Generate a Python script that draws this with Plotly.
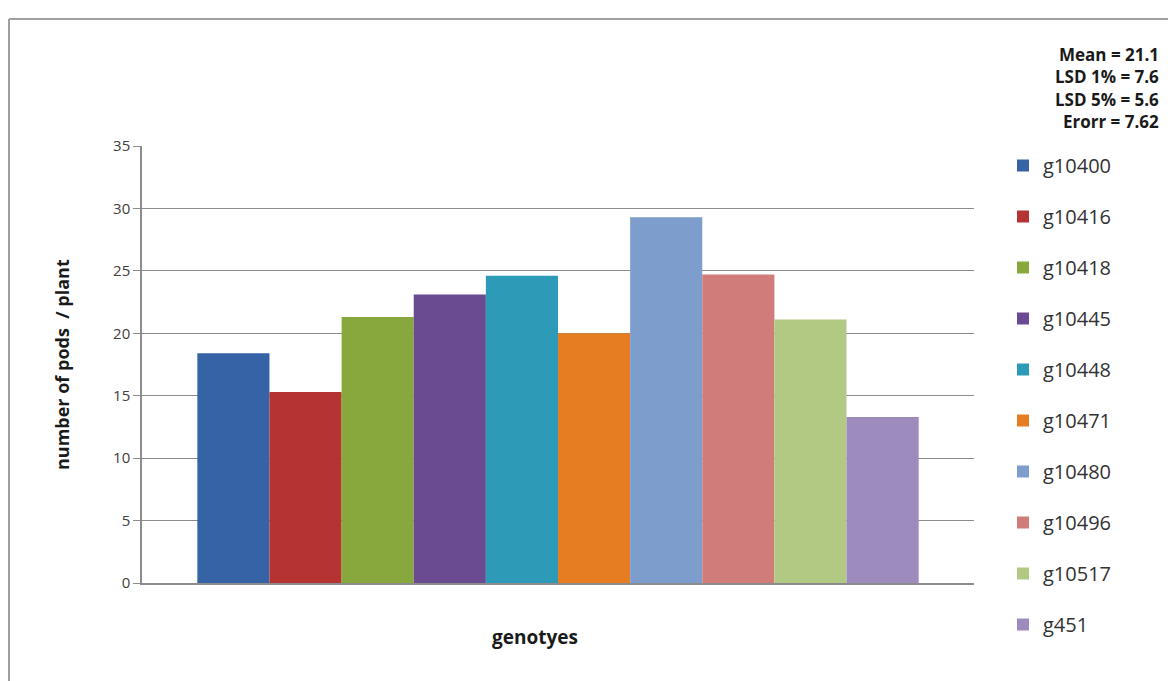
import plotly.graph_objects as go

genotypes = ["g10400", "g10416", "g10418", "g10445", "g10448",
             "g10471", "g10480", "g10496", "g10517", "g451"]
pods_per_plant = [18.4, 15.3, 21.3, 23.1, 24.6, 20.0, 29.3, 24.7, 21.1, 13.3]
bar_colors = ["#3563a6", "#b53331", "#88a83e", "#6a4b91", "#2d9bb8",
              "#e77d22", "#7d9dcc", "#d07c7a", "#b2c983", "#9d8bbd"]
stats_lines = ["Mean = 21.1", "LSD 1% = 7.6", "LSD 5% = 5.6", "Erorr = 7.62"]
y_ticks = [0, 5, 10, 15, 20, 25, 30, 35]

W, H = 1168, 681
PLOT_L, PLOT_R, PLOT_T, PLOT_B = 142, 974, 146, 583
L, R, T, B = PLOT_L, W - PLOT_R, PLOT_T, H - PLOT_B
pw, ph = W - L - R, H - T - B


def px(x):
    return (x - L) / pw


def py(y):
    return (PLOT_B - y) / ph


FONT = "Open Sans"

fig = go.Figure()
for g, v, c in zip(genotypes, pods_per_plant, bar_colors):
    fig.add_trace(go.Bar(
        x=["genotypes"], y=[v], name=g,
        marker=dict(color=c, line=dict(width=0)),
        legendgroup=g,
    ))

fig.update_layout(
    width=W, height=H,
    margin=dict(l=L, r=R, t=T, b=B, pad=0, autoexpand=False),
    paper_bgcolor="white", plot_bgcolor="white",
    barmode="group", bargap=0.133, bargroupgap=0,
    font=dict(family=FONT, color="#333333"),
    showlegend=True,
    legend=dict(
        x=px(1003), xanchor="left", y=py(146), yanchor="top",
        font=dict(size=20, color="#333333", family=FONT),
        tracegroupgap=22, bgcolor="rgba(0,0,0,0)", borderwidth=0,
        itemwidth=30, maxheight=700,
    ),
    xaxis=dict(
        showticklabels=False, ticks="", showgrid=False,
        showline=True, linecolor="#8c8c8c", linewidth=1.5,
        zeroline=False, automargin=False,
    ),
    yaxis=dict(
        range=[0, 35], tickvals=y_ticks,
        ticks="outside", ticklen=7, tickcolor="#8c8c8c", tickwidth=1.2,
        showgrid=True, gridcolor="#8c8c8c", gridwidth=1.2,
        showline=True, linecolor="#8c8c8c", linewidth=1.5,
        zeroline=False, automargin=False,
        tickfont=dict(size=15, color="#404040", family=FONT),
    ),
)

fig.add_annotation(
    text="<b>number of pods  / plant</b>", textangle=-90,
    xref="paper", yref="paper", x=px(62), y=py(365),
    xanchor="center", yanchor="middle", showarrow=False,
    font=dict(size=18, color="#1a1a1a", family=FONT),
)
fig.add_annotation(
    text="<b>genotyes</b>",
    xref="paper", yref="paper", x=px(535), y=py(637),
    xanchor="center", yanchor="middle", showarrow=False,
    font=dict(size=19, color="#1a1a1a", family=FONT),
)
for s, yy in zip(stats_lines, [54, 76, 99, 121]):
    fig.add_annotation(
        text="<b>%s</b>" % s,
        xref="paper", yref="paper", x=px(1161), y=py(yy),
        xanchor="right", yanchor="middle", align="right", showarrow=False,
        font=dict(size=17, color="#1a1a1a", family=FONT),
    )

# outer frame (top and left edges visible)
fig.add_shape(type="line", xref="paper", yref="paper",
              x0=px(9), y0=py(19), x1=px(1168), y1=py(19),
              line=dict(color="#a0a0a0", width=2))
fig.add_shape(type="line", xref="paper", yref="paper",
              x0=px(9), y0=py(19), x1=px(9), y1=py(681),
              line=dict(color="#a0a0a0", width=2))

fig.write_html("out.html")
